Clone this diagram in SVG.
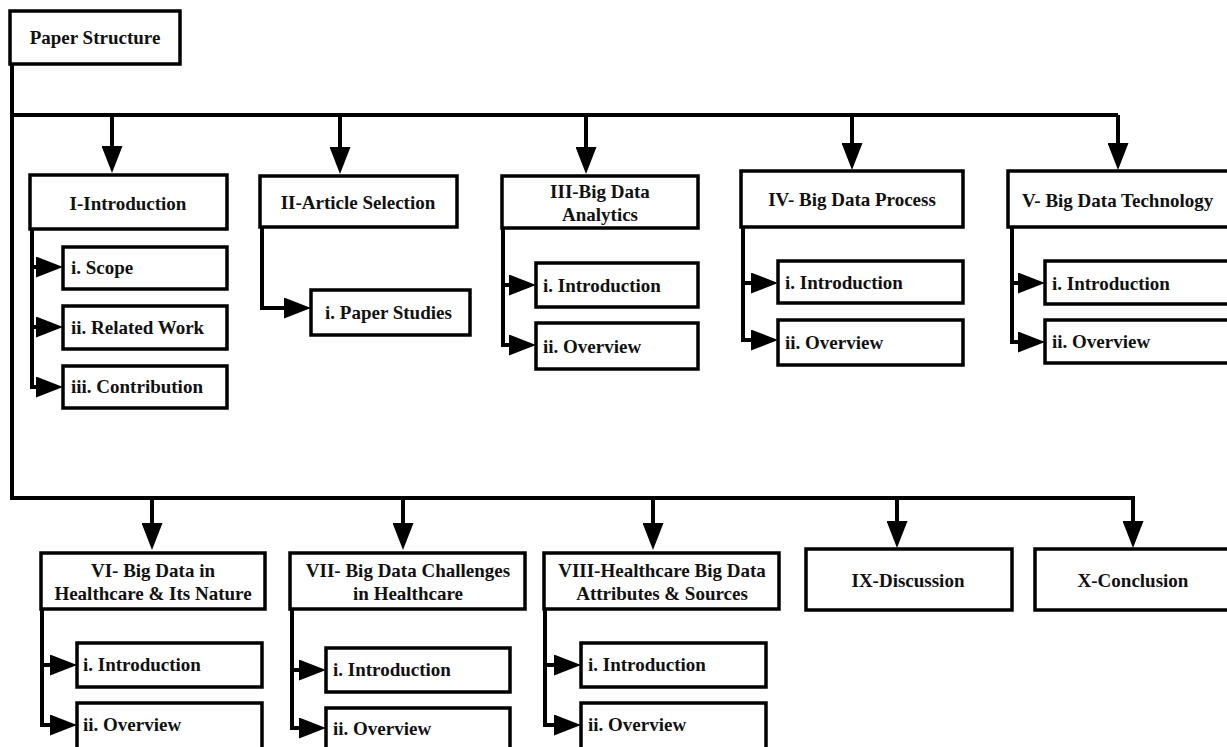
<svg xmlns="http://www.w3.org/2000/svg" width="1227" height="747" viewBox="0 0 1227 747">
<style>
rect{fill:#fff;stroke:#000;stroke-width:3.5}
text{font-family:"Liberation Serif","Times New Roman",serif;font-weight:bold;font-size:19px;fill:#111}
.c{text-anchor:middle}
.ln{fill:none;stroke:#000;stroke-width:4}
.ar{fill:none;stroke:#000;stroke-width:4;marker-end:url(#ah)}
</style>
<defs>
<marker id="ah" markerUnits="userSpaceOnUse" markerWidth="27" markerHeight="21" refX="17" refY="10.5" orient="auto">
<path d="M0,0 L27,10.5 L0,21 z" fill="#000"/>
</marker>
</defs>
<rect x="-5" y="-5" width="1240" height="760" style="stroke:none"/>
<g id="connectors">
<path class="ln" d="M12,64 V498 H1133"/>
<path class="ln" d="M12,115 H1118"/>
<path class="ar" d="M112,115 V163"/>
<path class="ar" d="M340,115 V164"/>
<path class="ar" d="M586,115 V164"/>
<path class="ar" d="M852,115 V160"/>
<path class="ar" d="M1118,115 V160"/>
<path class="ar" d="M152,498 V540"/>
<path class="ar" d="M403,498 V540"/>
<path class="ar" d="M653,498 V540"/>
<path class="ar" d="M897,498 V538"/>
<path class="ar" d="M1133,496 V538"/>
<path class="ln" d="M32,229 V389"/>
<path class="ar" d="M32,267 H53"/>
<path class="ar" d="M32,327 H53"/>
<path class="ar" d="M32,387 H53"/>
<path class="ar" d="M262,227 V308 H301"/>
<path class="ln" d="M503,228 V347"/>
<path class="ar" d="M503,285 H526"/>
<path class="ar" d="M503,345 H526"/>
<path class="ln" d="M743,227 V342"/>
<path class="ar" d="M743,283 H768"/>
<path class="ar" d="M743,340 H768"/>
<path class="ln" d="M1012,227 V344"/>
<path class="ar" d="M1012,283 H1035"/>
<path class="ar" d="M1012,342 H1035"/>
<path class="ln" d="M42,609 V727"/>
<path class="ar" d="M42,665 H67"/>
<path class="ar" d="M42,725 H67"/>
<path class="ln" d="M292,609 V730"/>
<path class="ar" d="M292,670 H316"/>
<path class="ar" d="M292,728 H316"/>
<path class="ln" d="M545,609 V727"/>
<path class="ar" d="M545,665 H571"/>
<path class="ar" d="M545,725 H571"/>
</g>
<g id="paper"><rect x="10" y="11" width="170" height="53"/><text class="c" x="95" y="44">Paper Structure</text></g>
<g id="intro"><rect x="30" y="175" width="197" height="54"/><text class="c" x="128" y="210">I-Introduction</text></g>
<g id="intro-scope"><rect x="63" y="247" width="164" height="42"/><text x="71" y="274">i. Scope</text></g>
<g id="intro-related"><rect x="63" y="306" width="164" height="43"/><text x="71" y="334">ii. Related Work</text></g>
<g id="intro-contrib"><rect x="63" y="366" width="164" height="42"/><text x="71" y="393">iii. Contribution</text></g>
<g id="article"><rect x="260" y="176" width="197" height="51"/><text class="c" x="358" y="209">II-Article Selection</text></g>
<g id="article-studies"><rect x="311" y="290" width="159" height="45"/><text x="325" y="319">i. Paper Studies</text></g>
<g id="analytics"><rect x="502" y="176" width="196" height="52"/><text class="c" x="600" y="198">III-Big Data</text><text class="c" x="600" y="221">Analytics</text></g>
<g id="analytics-intro"><rect x="536" y="263" width="162" height="44"/><text x="543" y="292">i. Introduction</text></g>
<g id="analytics-over"><rect x="536" y="323" width="162" height="46"/><text x="543" y="353">ii. Overview</text></g>
<g id="process"><rect x="741" y="171" width="222" height="56"/><text class="c" x="852" y="206">IV- Big Data Process</text></g>
<g id="process-intro"><rect x="778" y="261" width="185" height="42"/><text x="785" y="289">i. Introduction</text></g>
<g id="process-over"><rect x="778" y="320" width="185" height="45"/><text x="785" y="349">ii. Overview</text></g>
<g id="tech"><rect x="1008" y="171" width="240" height="56"/><text x="1022" y="207">V- Big Data Technology</text></g>
<g id="tech-intro"><rect x="1045" y="261" width="200" height="43"/><text x="1052" y="290">i. Introduction</text></g>
<g id="tech-over"><rect x="1045" y="320" width="200" height="43"/><text x="1052" y="348">ii. Overview</text></g>
<g id="health"><rect x="41" y="553" width="224" height="56"/><text class="c" x="153" y="577">VI- Big Data in</text><text class="c" x="153" y="600">Healthcare &amp; Its Nature</text></g>
<g id="health-intro"><rect x="77" y="643" width="185" height="44"/><text x="83" y="671">i. Introduction</text></g>
<g id="health-over"><rect x="77" y="703" width="185" height="50"/><text x="83" y="731">ii. Overview</text></g>
<g id="challenges"><rect x="290" y="553" width="235" height="56"/><text class="c" x="408" y="577">VII- Big Data Challenges</text><text class="c" x="408" y="600">in Healthcare</text></g>
<g id="challenges-intro"><rect x="326" y="648" width="184" height="44"/><text x="333" y="676">i. Introduction</text></g>
<g id="challenges-over"><rect x="326" y="708" width="184" height="45"/><text x="333" y="735">ii. Overview</text></g>
<g id="attributes"><rect x="544" y="553" width="235" height="56"/><text class="c" x="662" y="577">VIII-Healthcare Big Data</text><text class="c" x="662" y="600">Attributes &amp; Sources</text></g>
<g id="attributes-intro"><rect x="581" y="643" width="185" height="44"/><text x="588" y="671">i. Introduction</text></g>
<g id="attributes-over"><rect x="581" y="703" width="185" height="50"/><text x="588" y="731">ii. Overview</text></g>
<g id="discussion"><rect x="806" y="549" width="206" height="61"/><text class="c" x="908" y="587">IX-Discussion</text></g>
<g id="conclusion"><rect x="1035" y="549" width="210" height="61"/><text class="c" x="1133" y="587">X-Conclusion</text></g>
</svg>
